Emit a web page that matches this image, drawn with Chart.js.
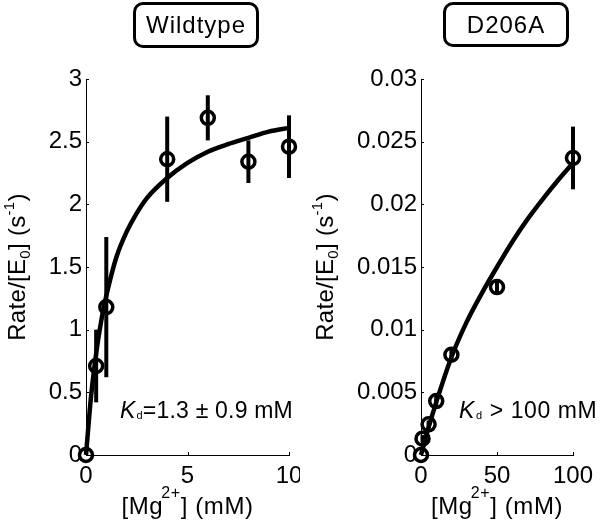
<!DOCTYPE html>
<html><head><meta charset="utf-8">
<script src="https://cdn.jsdelivr.net/npm/chart.js@4/dist/chart.umd.min.js"></script>
<style>
html,body{margin:0;padding:0;background:#fff;}
#wrap{position:relative;width:600px;height:520px;overflow:hidden;font-family:"Liberation Sans",Arial,sans-serif;}
.panel{position:absolute;top:0;width:300px;height:520px;}
.tbox{position:absolute;box-sizing:border-box;border:3px solid #000;border-radius:10px;font-size:24px;text-align:center;color:#000;letter-spacing:1px;}
</style></head>
<body>
<div id="wrap">
  <div class="panel" style="left:0"><canvas id="c1" width="300" height="520"></canvas></div>
  <div class="panel" style="left:300px"><canvas id="c2" width="300" height="520"></canvas></div>
  <div class="tbox" style="left:133px;top:2px;width:126px;height:46px;line-height:40px;">Wildtype</div>
  <div class="tbox" style="left:443px;top:2px;width:126px;height:45px;line-height:39px;">D206A</div>
</div>
<script>
// ---------- Wildtype data ----------
const wtMg = [0, 0.5, 1, 4, 6, 8, 10];
const wtRate = [0, 0.71, 1.18, 2.36, 2.69, 2.34, 2.46];
const wtErr = [0, 0.29, 0.56, 0.34, 0.18, 0.17, 0.25];
const wtFitMg = [0, 0.25, 0.5, 0.75, 1, 1.5, 2, 2.5, 3, 4, 5, 6, 7, 8, 9, 10];
const wtFitRate = [0, 0.47, 0.81, 1.07, 1.27, 1.58, 1.78, 1.93, 2.05, 2.21, 2.33, 2.42, 2.48, 2.53, 2.58, 2.61];
const wtXTicks = ['0', '5', '10'];
const wtYTicks = ['0', '0.5', '1', '1.5', '2', '2.5', '3'];

// ---------- D206A data ----------
const mutMg = [0, 1, 5, 10, 20, 50, 100];
const mutRate = [0, 0.0013, 0.00245, 0.0043, 0.0080, 0.0134, 0.0237];
const mutErr = [0, 0.0003, 0.0003, 0.0004, 0.0005, 0.0005, 0.0025];
const mutFitMg = [0, 5, 10, 20, 30, 40, 50, 60, 70, 80, 90, 100];
const mutFitRate = [0, 0.0022, 0.0042, 0.0078, 0.0106, 0.0129, 0.0150, 0.0170, 0.0188, 0.0204, 0.0219, 0.0233];
const mutXTicks = ['0', '50', '100'];
const mutYTicks = ['0', '0.005', '0.01', '0.015', '0.02', '0.025', '0.03'];

const FONT = '"Liberation Sans", Arial, sans-serif';

function drawRich(ctx, segs, x, y, align, spacing) {
  ctx.letterSpacing = (spacing || 0) + 'px';
  let w = 0;
  segs.forEach(s => {
    ctx.font = (s.italic ? 'italic ' : '') + s.size + 'px ' + FONT;
    s.w = ctx.measureText(s.t).width;
    w += s.w + (s.dx || 0);
  });
  let cx = align === 'center' ? x - w / 2 : x;
  ctx.textAlign = 'left';
  ctx.textBaseline = 'alphabetic';
  segs.forEach(s => {
    ctx.font = (s.italic ? 'italic ' : '') + s.size + 'px ' + FONT;
    cx += (s.dx || 0);
    ctx.fillText(s.t, cx, y + (s.dy || 0));
    cx += s.w;
  });
  ctx.letterSpacing = '0px';
}

const extras = {
  id: 'extras',
  afterDatasetsDraw(chart) {
    const c = chart.config.options.plugins.extras;
    const ctx = chart.ctx, xs = chart.scales.x, ys = chart.scales.y;
    ctx.save();
    ctx.strokeStyle = '#000';
    ctx.lineWidth = 4;
    ctx.lineCap = 'butt';
    c.xs.forEach((xv, i) => {
      const e = c.err[i];
      if (!e) return;
      const px = xs.getPixelForValue(xv);
      ctx.beginPath();
      ctx.moveTo(px, ys.getPixelForValue(c.ys[i] - e));
      ctx.lineTo(px, ys.getPixelForValue(c.ys[i] + e));
      ctx.stroke();
    });
    ctx.restore();
  },
  afterDraw(chart) {
    const c = chart.config.options.plugins.extras;
    const ctx = chart.ctx, xs = chart.scales.x, ys = chart.scales.y;
    const a = chart.chartArea;
    ctx.save();
    ctx.strokeStyle = '#000';
    ctx.lineWidth = 1;
    ys.ticks.forEach((t, i) => {
      const py = Math.round(ys.getPixelForTick(i)) + 0.5;
      ctx.beginPath(); ctx.moveTo(a.left, py); ctx.lineTo(a.left + 3, py); ctx.stroke();
    });
    xs.ticks.forEach((t, i) => {
      const px = Math.round(xs.getPixelForTick(i)) + 0.5;
      ctx.beginPath(); ctx.moveTo(px, a.bottom); ctx.lineTo(px, a.bottom - 3); ctx.stroke();
    });
    ctx.fillStyle = '#000';
    ctx.save();
    ctx.translate(c.yTitleX, (a.top + a.bottom) / 2);
    ctx.rotate(-Math.PI / 2);
    drawRich(ctx, [
      {t: 'Rate/[E', size: 24},
      {t: '0', size: 15, dy: 5},
      {t: '] (s', size: 24},
      {t: '-1', size: 15, dy: -11},
      {t: ')', size: 24}
    ], 0, 0, 'center', 0.3);
    ctx.restore();
    drawRich(ctx, [
      {t: '[Mg', size: 24},
      {t: '2+', size: 16, dy: -16, dx: -2},
      {t: '] (mM)', size: 24}
    ], (a.left + a.right) / 2, 514, 'center', 0.6);
    drawRich(ctx, c.note, c.noteX, 418, 'left', c.noteSpacing);
    ctx.restore();
  }
};

function buildChart(id, cfg) {
  return new Chart(document.getElementById(id), {
    type: 'line',
    data: {
      datasets: [
        {
          label: 'fit',
          data: cfg.fitX.map((x, i) => ({x: x, y: cfg.fitY[i]})),
          borderColor: '#000', borderWidth: 4.5, pointRadius: 0, fill: false,
          cubicInterpolationMode: 'monotone', clip: false, order: 2
        },
        {
          label: 'data',
          data: cfg.x.map((x, i) => ({x: x, y: cfg.y[i]})),
          showLine: false, pointRadius: 6.5, pointBorderWidth: 3.5,
          pointBorderColor: '#000', pointBackgroundColor: 'rgba(0,0,0,0)',
          clip: false, order: 1
        }
      ]
    },
    options: {
      responsive: false, animation: false, devicePixelRatio: 1,
      layout: {padding: {left: 0, top: 79, right: cfg.right, bottom: 0}},
      plugins: {
        legend: {display: false}, tooltip: {enabled: false},
        extras: {xs: cfg.x, ys: cfg.y, err: cfg.err, yTitleX: cfg.yTitleX, note: cfg.note, noteX: cfg.noteX, noteSpacing: cfg.noteSpacing}
      },
      scales: {
        x: {
          type: 'linear', min: cfg.xMin, max: cfg.xMax,
          ticks: {stepSize: cfg.xStep, autoSkip: false, maxRotation: 0, padding: 7, color: '#000',
                  font: {family: FONT, size: 24}, callback: (v, i) => cfg.xTicks[i]},
          grid: {display: false, drawTicks: false},
          border: {display: true, color: '#000', width: 1},
          afterFit: s => { s.height = 65; s.paddingLeft = 0; s.paddingRight = 0; }
        },
        y: {
          type: 'linear', min: cfg.yMin, max: cfg.yMax,
          ticks: {stepSize: cfg.yStep, autoSkip: false, padding: 4, color: '#000',
                  font: {family: FONT, size: 24}, callback: (v, i) => cfg.yTicks[i]},
          grid: {display: false, drawTicks: false},
          border: {display: true, color: '#000', width: 1},
          afterFit: s => { s.width = cfg.yw; s.paddingTop = 0; s.paddingBottom = 0; }
        }
      }
    },
    plugins: [extras]
  });
}

buildChart('c1', {
  x: wtMg, y: wtRate, err: wtErr, fitX: wtFitMg, fitY: wtFitRate,
  xMin: 0, xMax: 10, xStep: 5, xTicks: wtXTicks,
  yMin: 0, yMax: 3, yStep: 0.5, yTicks: wtYTicks,
  yw: 86, right: 11, yTitleX: 25, noteX: 120, noteSpacing: 0.2,
  note: [{t: 'K', size: 23, italic: true}, {t: 'd', size: 11, dx: 1, dy: 1}, {t: '=1.3 ± 0.9 mM', size: 23}]
});
buildChart('c2', {
  x: mutMg, y: mutRate, err: mutErr, fitX: mutFitMg, fitY: mutFitRate,
  xMin: 0, xMax: 100, xStep: 50, xTicks: mutXTicks,
  yMin: 0, yMax: 0.03, yStep: 0.005, yTicks: mutYTicks,
  yw: 121, right: 27, yTitleX: 33, noteX: 159, noteSpacing: 0.6,
  note: [{t: 'K', size: 23, italic: true}, {t: 'd', size: 11, dx: 1, dy: 1}, {t: ' > 100 mM', size: 23}]
});
</script>
</body></html>
